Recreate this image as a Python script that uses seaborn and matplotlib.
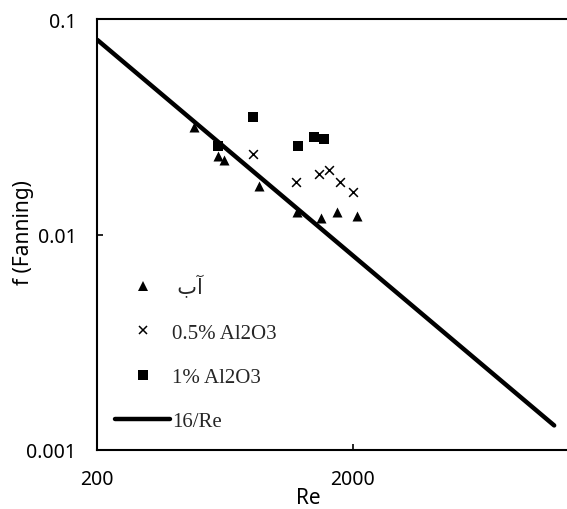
import numpy as np
import pandas as pd
import matplotlib
matplotlib.use('Agg')
import matplotlib.pyplot as plt
from matplotlib.lines import Line2D
from matplotlib.ticker import FixedLocator, FixedFormatter, NullLocator
import seaborn as sns

# Data
re_water = [478, 592, 629, 862, 1207, 1503, 1741, 2084]
f_water = [0.0314, 0.0232, 0.0222, 0.0168, 0.0127, 0.0119, 0.0127, 0.0122]

re_al05 = [816, 1200, 1476, 1611, 1784, 2000]
f_al05 = [0.0236, 0.0176, 0.0191, 0.0199, 0.0175, 0.0158]

re_al1 = [592, 816, 1221, 1411, 1540]
f_al1 = [0.0258, 0.0350, 0.0258, 0.0284, 0.0277]

# 16/Re laminar line endpoints
re_line = [200, 12300]
f_line = [0.08, 0.0013]

labels = ["آب", "0.5% Al2O3", "1% Al2O3", "16/Re"]
x_ticks = [200, 2000, 20000]
x_tick_labels = ["200", "2000", ""]  # the 20000 label falls outside the crop
y_ticks = [0.001, 0.01, 0.1]
y_tick_labels = ["0.001", "0.01", "0.1"]

sns.set_theme(style='white')
plt.rcParams['font.family'] = ['Noto Sans', 'DejaVu Sans']

fig = plt.figure(figsize=(5.67, 5.1), dpi=100)
ax = fig.add_axes([97.3 / 567, 59 / 510, 510.8 / 567, 431 / 510])

sns.lineplot(x=re_line, y=f_line, color='black', linewidth=3.2,
             solid_capstyle='round', ax=ax)
sns.scatterplot(x=re_water, y=f_water, marker='^', s=52, color='black',
                edgecolor='black', linewidth=0, ax=ax)
sns.scatterplot(x=re_al05, y=f_al05, marker='x', s=40, color='black',
                linewidth=1.1, ax=ax)
sns.scatterplot(x=re_al1, y=f_al1, marker='s', s=46, color='black',
                edgecolor='black', linewidth=0, ax=ax)

ax.set_xscale('log')
ax.set_yscale('log')
ax.set_xlim(200, 20000)
ax.set_ylim(0.001, 0.1)

ax.xaxis.set_major_locator(FixedLocator(x_ticks))
ax.xaxis.set_major_formatter(FixedFormatter(x_tick_labels))
ax.yaxis.set_major_locator(FixedLocator(y_ticks))
ax.yaxis.set_major_formatter(FixedFormatter(y_tick_labels))
ax.xaxis.set_minor_locator(NullLocator())
ax.yaxis.set_minor_locator(NullLocator())

ax.tick_params(axis='both', direction='in', length=4.5, width=1.2,
               colors='black', labelsize=14, left=True, bottom=True)
ax.tick_params(axis='x', pad=14)
ax.tick_params(axis='y', pad=15)

for side in ['left', 'bottom', 'top', 'right']:
    ax.spines[side].set_color('black')
    ax.spines[side].set_linewidth(1.5)

ax.set_xlabel('Re', fontsize=15, color='black')
ax.set_ylabel('f (Fanning)', fontsize=15, color='black')
ax.xaxis.set_label_coords(0.414, -0.086)
ax.yaxis.set_label_coords(-0.124, 0.507)

# matplotlib has no bidi support, so the Persian label is given in visual order
water_label = ' ' + labels[0][::-1]
handles = [
    Line2D([], [], marker='^', linestyle='none', color='black', markersize=7.2,
           markeredgewidth=0),
    Line2D([], [], marker='x', linestyle='none', color='black', markersize=6.3,
           markeredgewidth=1.1),
    Line2D([], [], marker='s', linestyle='none', color='black', markersize=6.8,
           markeredgewidth=0),
    Line2D([], [], color='black', linewidth=3.2, solid_capstyle='round'),
]
leg = ax.legend(handles, [water_label] + labels[1:], loc='upper left',
                bbox_to_anchor=(0.0347, 0.406), frameon=False, borderpad=0,
                borderaxespad=0, handlelength=2.64, handletextpad=0.1,
                labelspacing=1.19,
                prop={'family': ['Liberation Serif', 'DejaVu Sans'], 'size': 15})

fig.savefig('out.png', dpi=100, facecolor='white')
